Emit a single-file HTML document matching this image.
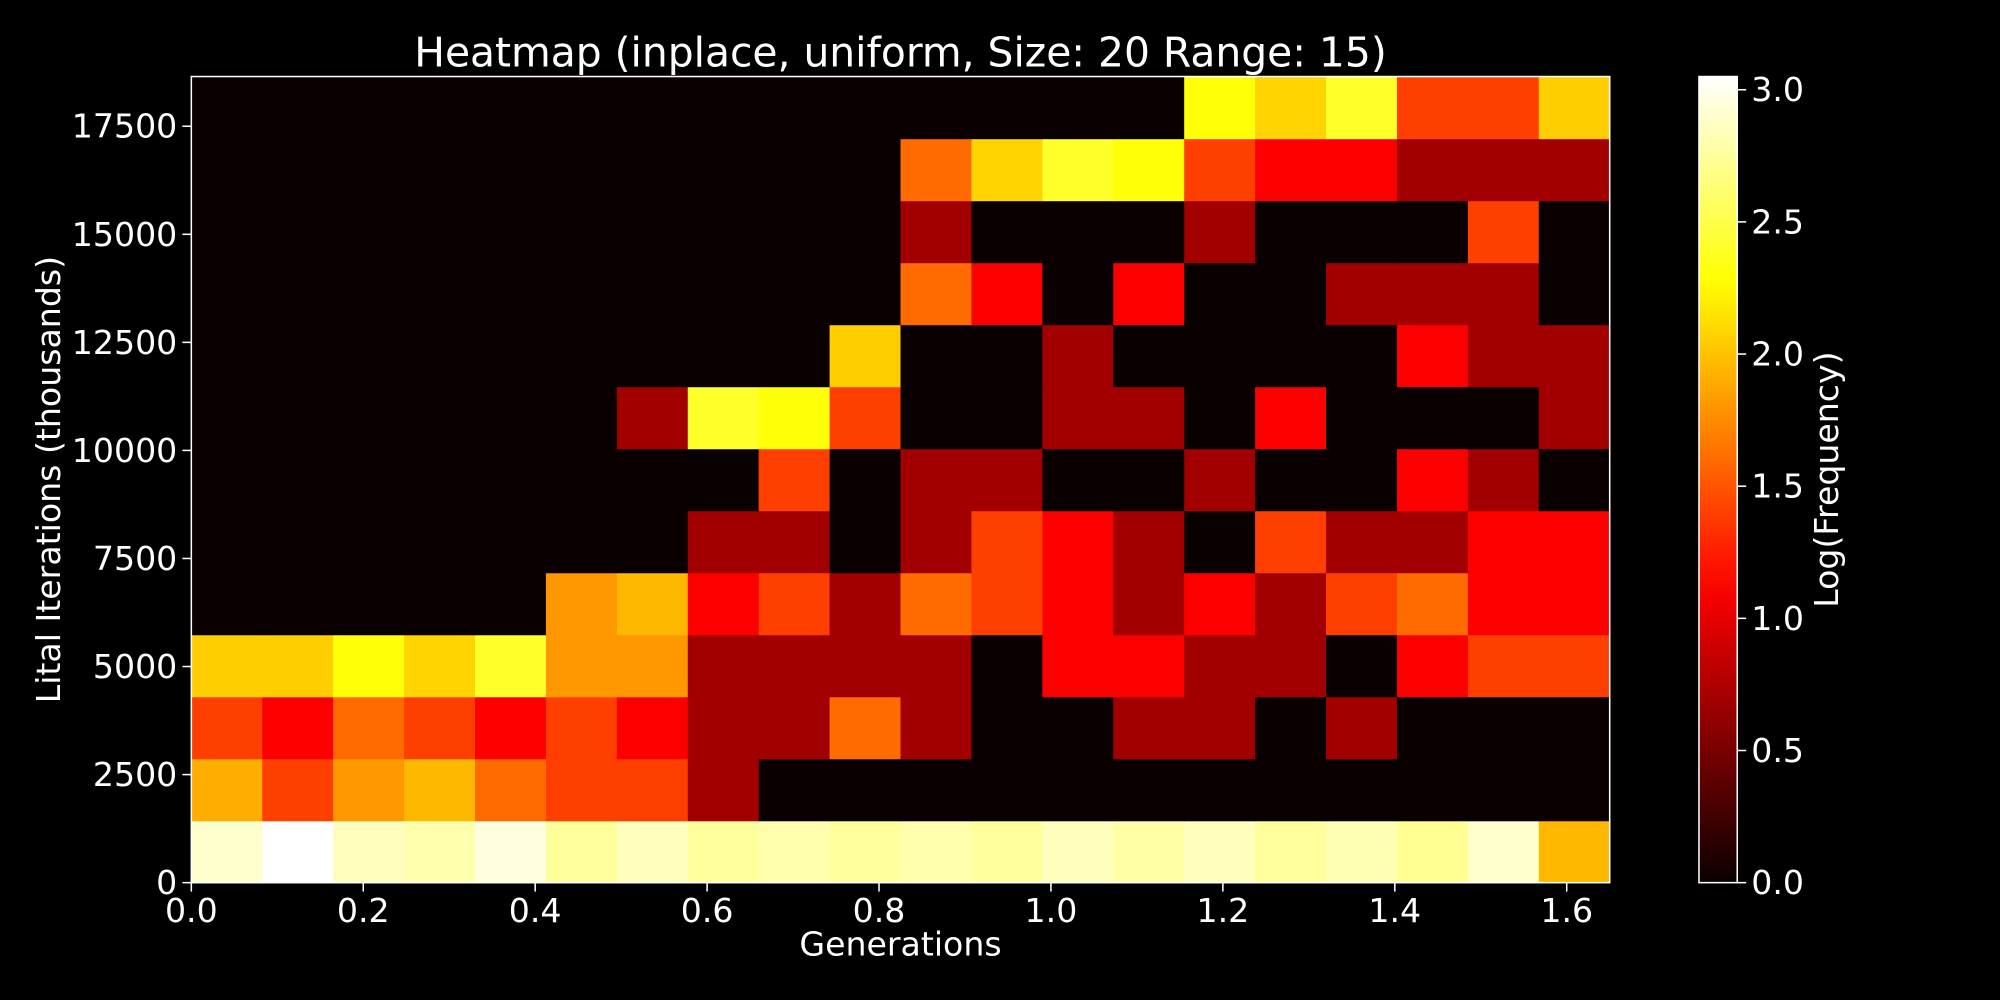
<!DOCTYPE html>
<html><head><meta charset="utf-8"><style>
html,body{margin:0;padding:0;background:#000;width:2000px;height:1000px;overflow:hidden}
svg text{font-family:"DejaVu Sans","Liberation Sans",sans-serif;fill:#fff}
</style></head><body>
<svg id="chart" width="2000" height="1000" viewBox="0 0 1568 784" xmlns="http://www.w3.org/2000/svg">
<rect width="1568" height="784" fill="#000"/>
<text x="706" y="52" font-size="32" text-anchor="middle">Heatmap (inplace, uniform, Size: 20 Range: 15)</text>
<g id="cells"></g>
<g id="axes"></g>
<defs><linearGradient id="cbgrad" x1="0" y1="1" x2="0" y2="0"></linearGradient></defs>
</svg>
<script>
const xTicks=[0,0.2,0.4,0.6,0.8,1.0,1.2,1.4,1.6];
const xTickLabels=["0.0","0.2","0.4","0.6","0.8","1.0","1.2","1.4","1.6"];
const yTicks=[0,2500,5000,7500,10000,12500,15000,17500];
const cbTicks=[0,0.5,1.0,1.5,2.0,2.5,3.0];
const cbTickLabels=["0.0","0.5","1.0","1.5","2.0","2.5","3.0"];
// rows from bottom (row 0 = lowest iteration bin), 20 columns each
const row0=[2.9,3.05,2.85,2.8,2.95,2.75,2.85,2.75,2.8,2.75,2.8,2.75,2.85,2.78,2.85,2.75,2.82,2.72,2.9,1.95];
const row1=[1.9,1.4,1.8,1.95,1.6,1.4,1.4,0.69,0,0,0,0,0,0,0,0,0,0,0,0];
const row2=[1.4,1.1,1.6,1.4,1.1,1.4,1.1,0.69,0.69,1.6,0.69,0,0,0.69,0.69,0,0.69,0,0,0];
const row3=[2.05,2.05,2.3,2.08,2.4,1.8,1.8,0.69,0.69,0.69,0.69,0,1.1,1.1,0.69,0.69,0,1.1,1.4,1.4];
const row4=[0,0,0,0,0,1.8,1.95,1.1,1.4,0.69,1.6,1.4,1.1,0.69,1.1,0.69,1.4,1.6,1.1,1.1];
const row5=[0,0,0,0,0,0,0,0.69,0.69,0,0.69,1.4,1.1,0.69,0,1.4,0.69,0.69,1.1,1.1];
const row6=[0,0,0,0,0,0,0,0,1.4,0,0.69,0.69,0,0,0.69,0,0,1.1,0.69,0];
const row7=[0,0,0,0,0,0,0.69,2.4,2.3,1.4,0,0,0.69,0.69,0,1.1,0,0,0,0.69];
const row8=[0,0,0,0,0,0,0,0,0,2.05,0,0,0.69,0,0,0,0,1.1,0.69,0.69];
const row9=[0,0,0,0,0,0,0,0,0,0,1.6,1.1,0,1.1,0,0,0.69,0.69,0.69,0];
const row10=[0,0,0,0,0,0,0,0,0,0,0.69,0,0,0,0.69,0,0,0,1.4,0];
const row11=[0,0,0,0,0,0,0,0,0,0,1.6,2.08,2.4,2.3,1.4,1.1,1.1,0.69,0.69,0.69];
const row12=[0,0,0,0,0,0,0,0,0,0,0,0,0,0,2.3,2.08,2.4,1.4,1.4,2.05];
const rows=[row0,row1,row2,row3,row4,row5,row6,row7,row8,row9,row10,row11,row12];

const NS="http://www.w3.org/2000/svg";
const X0=150,X1=1262,Y0=692,Y1=60,XMAX=1.65,YMAX=18650,VMAX=3.05;
const sx=v=>X0+v/XMAX*(X1-X0);
const sy=v=>Y0-v/YMAX*(Y0-Y1);
const CB={x:1332,w:30};
const cy=v=>Y0-v/VMAX*(Y0-Y1);
function hot(v){const t=Math.max(0,Math.min(1,v/VMAX));
const r=Math.min(1,0.0416+t/0.365*(1-0.0416)),g=Math.max(0,Math.min(1,(t-0.365)/0.381)),b=Math.max(0,Math.min(1,(t-0.746)/0.254));
return `rgb(${Math.round(r*255)},${Math.round(g*255)},${Math.round(b*255)})`;}
function mk(tag,at,parent){const e=document.createElementNS(NS,tag);for(const k in at)e.setAttribute(k,at[k]);parent.appendChild(e);return e;}
const cells=document.getElementById('cells'),axes=document.getElementById('axes');
const nr=rows.length,nc=row0.length,cw=XMAX/nc,rh=YMAX/nr;
rows.forEach((row,r)=>row.forEach((v,c)=>{
 const e=mk('rect',{x:sx(c*cw),y:sy((r+1)*rh),width:sx((c+1)*cw)-sx(c*cw)+0.5,height:sy(r*rh)-sy((r+1)*rh)+0.5,fill:hot(v)},cells);
 
 
}));
const fr=mk('rect',{x:X0,y:Y1,width:X1-X0,height:Y0-Y1,fill:'none',stroke:'#fff','stroke-width':1.2},axes);


xTicks.forEach((v,i)=>{const x=sx(v);
 mk('line',{x1:x,x2:x,y1:Y0,y2:Y0+7,stroke:'#fff','stroke-width':1.2},axes);
 const t=mk('text',{x:x,y:Y0+31,'font-size':26,'text-anchor':'middle'},axes);t.textContent=xTickLabels[i];
 
 
});
yTicks.forEach(v=>{const y=sy(v);
 mk('line',{x1:X0-7,x2:X0,y1:y,y2:y,stroke:'#fff','stroke-width':1.2},axes);
 const t=mk('text',{x:X0-11,y:y+9,'font-size':26,'text-anchor':'end'},axes);t.textContent=String(v);
 
 
});
let t=mk('text',{x:(X0+X1)/2,y:749,'font-size':26,'text-anchor':'middle'},axes);t.textContent='Generations';


t=mk('text',{x:0,y:0,'font-size':26,'text-anchor':'middle',transform:`translate(47,${(Y0+Y1)/2}) rotate(-90)`},axes);t.textContent='Lital Iterations (thousands)';


// colorbar
const g=document.getElementById('cbgrad');
for(let i=0;i<=20;i++){mk('stop',{offset:i/20,'stop-color':hot(i/20*VMAX)},g);}
const cb=mk('rect',{x:CB.x,y:Y1,width:CB.w,height:Y0-Y1,fill:'url(#cbgrad)',stroke:'#fff','stroke-width':1.2},axes);


cbTicks.forEach((v,i)=>{const y=cy(v);
 mk('line',{x1:CB.x+CB.w,x2:CB.x+CB.w+7,y1:y,y2:y,stroke:'#fff','stroke-width':1.2},axes);
 const tt=mk('text',{x:CB.x+CB.w+11,y:y+9,'font-size':26},axes);tt.textContent=cbTickLabels[i];
 
 
});
t=mk('text',{x:0,y:0,'font-size':26,'text-anchor':'middle',transform:`translate(1441,${(Y0+Y1)/2}) rotate(-90)`},axes);t.textContent='Log(Frequency)';


</script>
</body></html>
